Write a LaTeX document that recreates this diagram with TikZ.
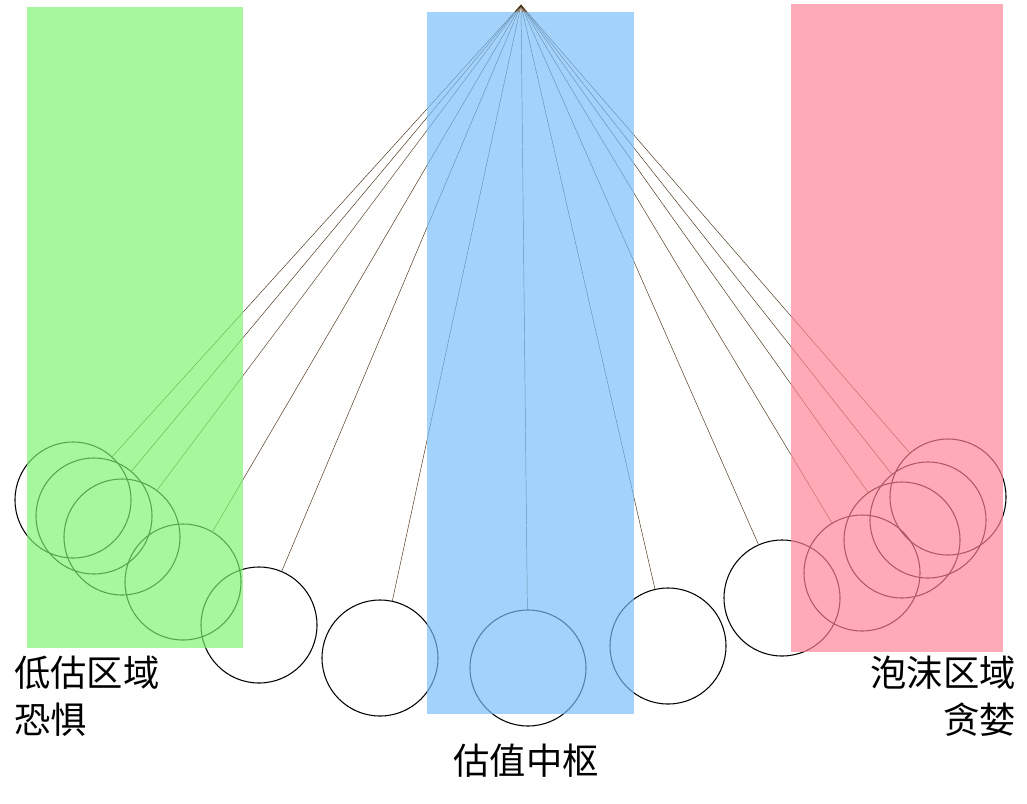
\documentclass[tikz,border=0pt]{standalone}
\usepackage{fontspec}
\newfontfamily\cjk{Noto Sans CJK SC}
\definecolor{lowgreen}{RGB}{125,245,110}
\definecolor{midblue}{RGB}{120,190,250}
\definecolor{highpink}{RGB}{255,130,148}
\begin{document}
\begin{tikzpicture}[
    x=0.03cm, y=-0.03cm,
    bob/.style={circle, draw=black, line width=0.9pt, minimum size=3.48cm, inner sep=0pt},
    rod/.style={draw=black!60!brown, line width=0.4pt},
    zone/.style={fill opacity=0.68, draw=none},
    label/.style={font=\cjk\fontsize{31}{40}\selectfont, align=center}
]
    \useasboundingbox (0,0) rectangle (1027,803);
    % Pivot
    \coordinate (pivot) at (521,5);
    % Bobs and rods
    \foreach \n/\x/\y in {a/73/500, b/94/516, c/122/537, d/183/582, e/259/625,
        f/380/658, g/528/668, h/668/646, i/782/598, j/862/573, k/902/540,
        l/928/520, m/948/497} {
        \node[bob] (\n) at (\x,\y) {};
        \draw[rod] (pivot) -- (\n);
    }
    % Zones
    \fill[zone, lowgreen] (27,7) rectangle (243,648);
    \fill[zone, midblue] (427,12) rectangle (634,714);
    \fill[zone, highpink] (791,4) rectangle (1003,652);
    % Labels
    \node[label, align=left, anchor=north west] (low) at (10,652) {低估区域\\ 恐惧};
    \node[label, anchor=north] (mid) at (526,740) {估值中枢};
    \node[label, align=right, anchor=north east] (high) at (1020,652) {泡沫区域\\ 贪婪};
\end{tikzpicture}
\end{document}
